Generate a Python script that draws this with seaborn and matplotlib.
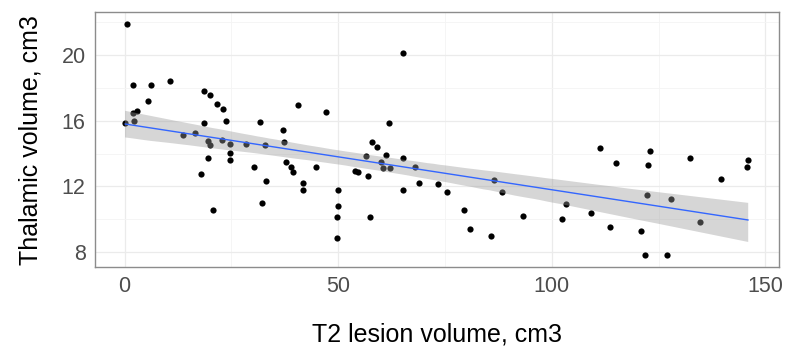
import numpy as np
import pandas as pd
import matplotlib
matplotlib.use("Agg")
import matplotlib.pyplot as plt
import seaborn as sns
from matplotlib.collections import PolyCollection
from matplotlib.ticker import MultipleLocator

# T2 lesion volume (cm3)
t2_volume = [0.5, 1.9, 6.2, 10.7, 5.5, 2.8, 1.9, 2.2, 0.1, 13.7, 16.4, 18.6, 19.9, 21.7,
             23.1, 23.7, 18.6, 19.6, 20.1, 22.7, 24.7, 24.7, 24.7, 19.6, 17.8, 20.8,
             28.5, 31.6, 32.9, 30.3, 33.1, 32.1, 37.1, 37.4, 40.7, 37.9, 38.9, 39.5,
             41.8, 41.8, 44.9, 47.2, 65.2, 62.0, 58.0, 59.2, 56.6, 60.0, 61.3, 60.4,
             62.1, 65.1, 68.1, 53.9, 54.6, 57.1, 50.0, 50.0, 49.7, 49.7, 57.4, 65.2,
             68.9, 73.3, 75.4, 79.4, 80.9, 85.9, 86.5, 88.4, 93.3, 102.3, 103.3, 109.3,
             111.2, 115.0, 113.7, 120.8, 121.9, 122.2, 122.6, 122.9, 126.9, 128.0,
             132.4, 134.8, 139.7, 145.7, 146.0]
# thalamic volume (cm3)
thal_volume = [21.9, 18.2, 18.2, 18.4, 17.2, 16.6, 16.45, 16.0, 15.85, 15.15, 15.25, 17.8,
               17.55, 17.0, 16.7, 16.0, 15.85, 14.75, 14.5, 14.85, 14.6, 14.05, 13.6,
               13.75, 12.75, 10.55, 14.6, 15.9, 14.5, 13.2, 12.35, 11.0, 15.45, 14.7,
               16.95, 13.5, 13.2, 12.85, 12.2, 11.8, 13.2, 16.5, 20.15, 15.85, 14.7,
               14.4, 13.85, 13.5, 13.9, 13.1, 13.1, 13.75, 13.2, 12.95, 12.85, 12.65,
               11.75, 10.8, 10.15, 8.85, 10.15, 11.75, 12.2, 12.15, 11.65, 10.55, 9.4,
               8.95, 12.4, 11.65, 10.2, 10.0, 10.95, 10.4, 14.35, 13.4, 9.5, 9.3, 7.8,
               11.45, 13.3, 14.15, 7.8, 11.2, 13.7, 9.8, 12.45, 13.2, 13.6]

x_ticks = [0, 50, 100, 150]
y_ticks = [8, 12, 16, 20]

df = pd.DataFrame({"t2": t2_volume, "thal": thal_volume})

sns.set_style("white")
plt.rcParams['font.family'] = ['Liberation Sans', 'DejaVu Sans']

fig = plt.figure(figsize=(7.87, 3.52), dpi=100)
ax = fig.add_axes([0.1203, 0.2406, 0.8695, 0.7244])

sns.regplot(data=df, x="t2", y="thal", ax=ax, ci=95, seed=0,
            scatter_kws={"s": 20, "color": "black", "alpha": 1, "linewidths": 0, "zorder": 2},
            line_kws={"color": "#3366FF", "linewidth": 1.0, "zorder": 4})

# ggplot-like grey band on top of the points
for coll in ax.collections:
    if isinstance(coll, PolyCollection):
        coll.set_facecolor("#999999")
        coll.set_edgecolor("none")
        coll.set_alpha(0.4)
        coll.set_zorder(3)

ax.set_xlim(-7.0, 153.2)
ax.set_ylim(7.07, 22.6)
ax.set_xticks(x_ticks)
ax.set_yticks(y_ticks)
ax.xaxis.set_minor_locator(MultipleLocator(25))
ax.yaxis.set_minor_locator(MultipleLocator(2))
ax.grid(which="major", color="#ebebeb", linewidth=0.9, zorder=0)
ax.grid(which="minor", color="#f4f4f4", linewidth=0.6, zorder=0)
ax.set_axisbelow(True)

for sp in ax.spines.values():
    sp.set_color("#8c8c8c")
    sp.set_linewidth(1.0)

ax.tick_params(which="major", length=4.5, width=0.8, color="#8c8c8c",
               labelsize=15.5, labelcolor="#4d4d4d", pad=2)
ax.tick_params(which="minor", length=0)

ax.set_xlabel("T2 lesion volume, cm3", fontsize=18, labelpad=18, color="black")
ax.set_ylabel("Thalamic volume, cm3", fontsize=18, labelpad=14, color="black")

fig.savefig("out.png", dpi=100)
